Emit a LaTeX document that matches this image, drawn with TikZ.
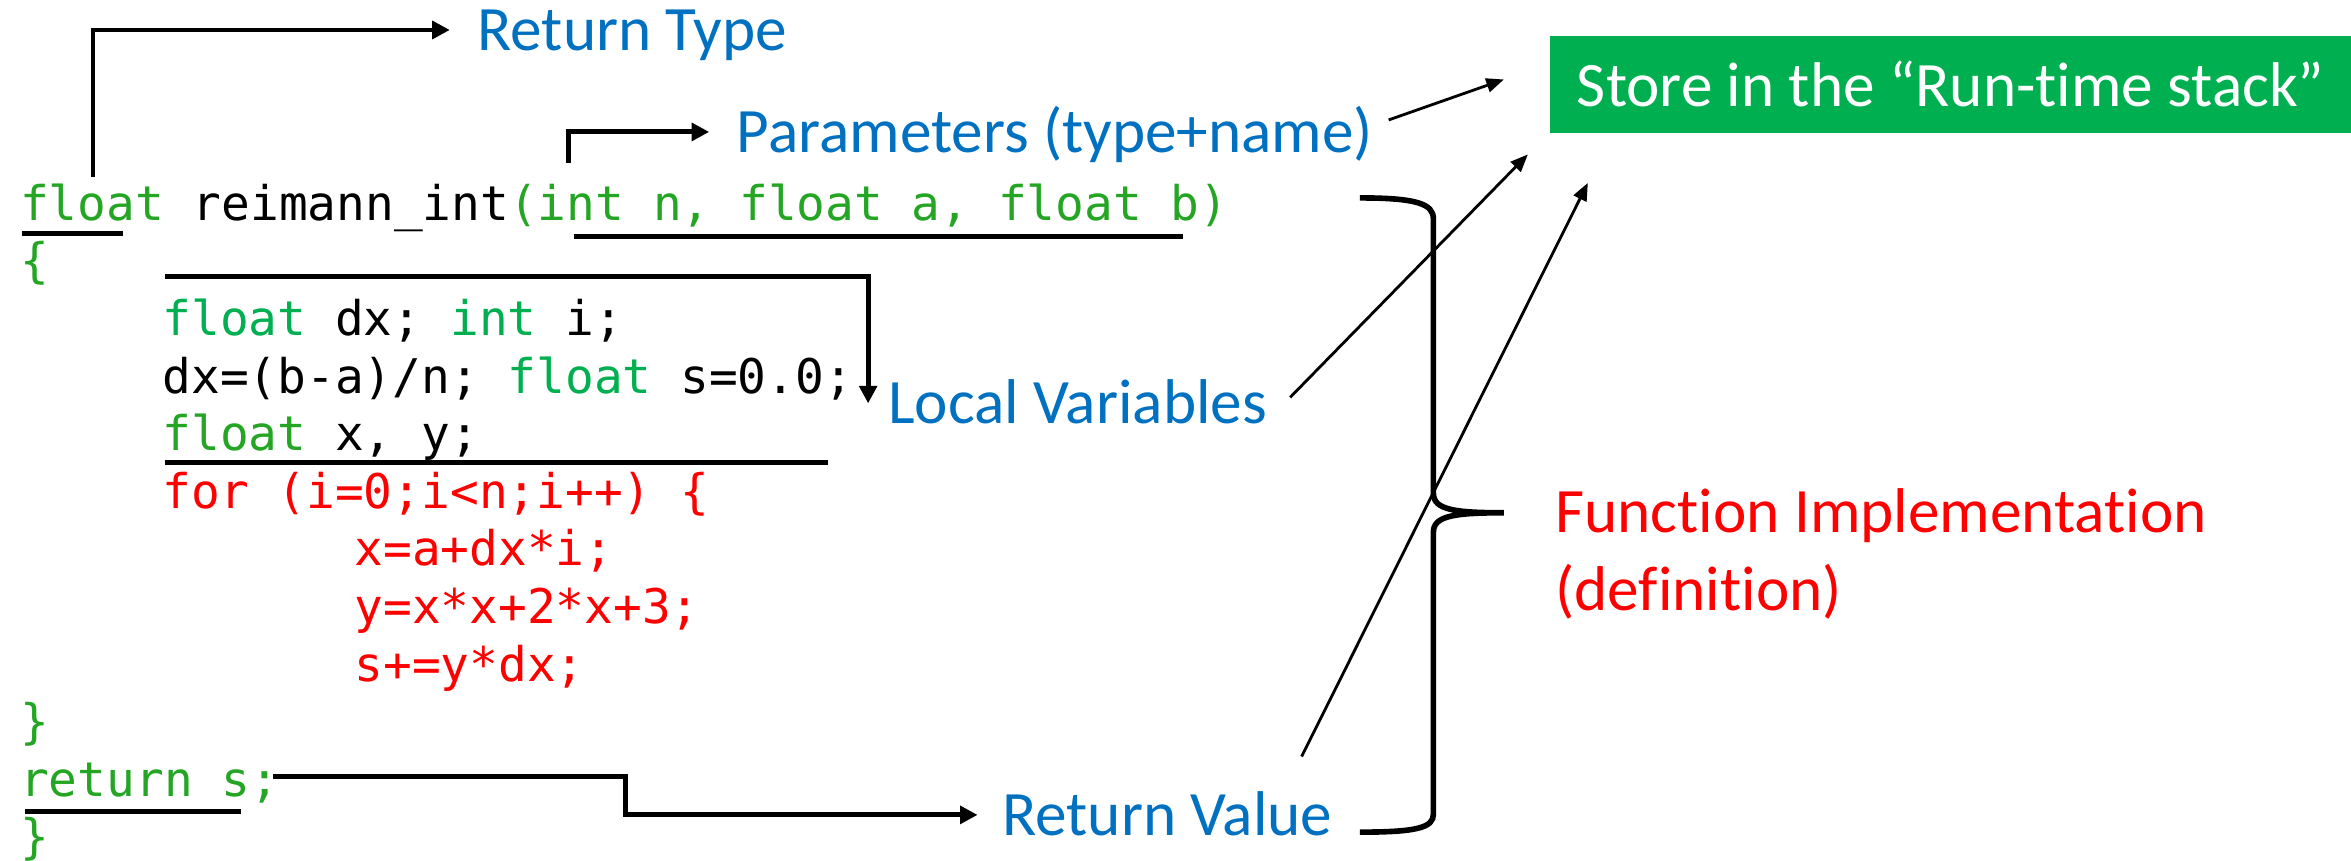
\documentclass[tikz,border=0pt]{standalone}
\usepackage{fontspec}
\setmainfont[Ligatures={NoCommon}]{Carlito}
\setmonofont{DejaVu Sans Mono}
\usetikzlibrary{arrows.meta}

\definecolor{lblblue}{RGB}{0,112,192}
\definecolor{kwgreen}{RGB}{36,166,36}
\definecolor{declgreen}{RGB}{0,176,80}

\tikzstyle{code}=[anchor=base west, inner sep=0pt, font=\ttfamily\fontsize{13.6}{16}\selectfont]
\tikzstyle{lbl}=[anchor=west, inner sep=0pt, text height=11.5pt, text depth=0pt, text=lblblue, font=\fontsize{18}{22.5}\selectfont]
\tikzstyle{uline}=[line width=1.4pt]
\tikzstyle{elbow}=[line width=1.4pt, -{Triangle[length=5pt,width=5pt]}]
\tikzstyle{pointer}=[line width=0.8pt, -{Triangle[length=5pt,width=4pt]}]
\tikzstyle{brace}=[line width=1.6pt]
\tikzstyle{store}=[rectangle, fill=declgreen, text=white, inner sep=0pt, minimum width=80.1mm, minimum height=9.7mm, font=\fontsize{18}{22.5}\selectfont]

\newcommand{\kw}[1]{\textcolor{kwgreen}{#1}}
\newcommand{\decl}[1]{\textcolor{declgreen}{#1}}

\begin{document}
\begin{tikzpicture}[x=1.5mm, y=-1.5mm]
	\useasboundingbox (0,0) rectangle (156.8,57.4);

	% the function, one node per line
	\node[code] (l0) at (1.3,14.7) {\kw{float} reimann\_int\kw{(int n, float a, float b)}};
	\node[code] (l1) at (1.3,18.54) {\kw{\{}};
	\node[code] (l2) at (10.8,22.38) {\decl{float} dx; \decl{int} i;};
	\node[code] (l3) at (10.8,26.22) {dx=(b-a)/n; \decl{float} s=0.0;};
	\node[code] (l4) at (10.8,30.06) {\kw{float} x, y;};
	\node[code, text=red] (l5) at (10.8,33.9) {for (i=0;i<n;i++) \{};
	\node[code, text=red] (l6) at (23.6,37.74) {x=a+dx*i;};
	\node[code, text=red] (l7) at (23.6,41.58) {y=x*x+2*x+3;};
	\node[code, text=red] (l8) at (23.6,45.42) {s+=y*dx;};
	\node[code] (l9) at (1.3,49.26) {\kw{\}}};
	\node[code] (l10) at (1.3,53.1) {\kw{return s;}};
	\node[code] (l11) at (1.3,56.94) {\kw{\}}};

	% labels
	\node[lbl] (rettype) at (31.8,2.0) {Return Type};
	\node[lbl] (params) at (49.1,8.8) {Parameters (type+name)};
	\node[lbl] (locvar) at (59.2,26.9) {Local Variables};
	\node[lbl] (retval) at (66.8,54.35) {Return Value};
	\node[anchor=base west, inner sep=0pt, align=left, text=red, font=\fontsize{18}{22}\selectfont] (impl) at (103.7,40.7) {Function Implementation\\(definition)};
	\node[store] (store) at (130.1,5.62) {Store in the “Run-time stack”};

	% underlines
	\draw[uline] (1.5,15.55) -- (8.2,15.55);
	\draw[uline] (38.3,15.8) -- (78.9,15.8);
	\draw[uline] (11.0,30.85) -- (55.2,30.85);
	\draw[uline] (1.7,54.1) -- (16.1,54.1);

	\coordinate (rtfoot) at (6.2,11.8);
	\coordinate (parfoot) at (37.9,10.9);
	\coordinate (lvfoot) at (11.0,18.45);
	\coordinate (retfoot) at (18.2,51.8);
	\coordinate (tipP) at (100.3,5.3);
	\coordinate (tipL) at (101.9,10.3);
	\coordinate (tipR) at (105.9,12.2);

	\draw[elbow] (rtfoot) |- ([xshift=-2.7mm]rettype.west);
	\draw[elbow] (parfoot) |- ([xshift=-2.7mm]params.west);
	\draw[elbow] (lvfoot) -| ([xshift=-1.95mm]locvar.west);
	\draw[elbow] (retfoot) -- ++(23.5,0) |- ([xshift=-2.4mm]retval.west);

	\draw[pointer] ([xshift=1.5mm,yshift=1.2mm]params.east) -- (tipP);
	\draw[pointer] ([xshift=2.25mm,yshift=0.6mm]locvar.east) -- (tipL);
	\draw[pointer] ([xshift=-3.15mm,yshift=3.75mm]retval.north east) -- (tipR);

	% curly brace round the body
	\draw[brace] (90.7,13.2) .. controls (94.5,13.2) and (95.6,13.6) .. (95.6,14.6) -- (95.6,32.9)
		.. controls (95.6,34.0) and (97,34.2) .. (100.3,34.2)
		.. controls (97,34.2) and (95.6,34.4) .. (95.6,35.5) -- (95.6,54.3)
		.. controls (95.6,55.2) and (94.5,55.5) .. (90.7,55.5);
\end{tikzpicture}
\end{document}
